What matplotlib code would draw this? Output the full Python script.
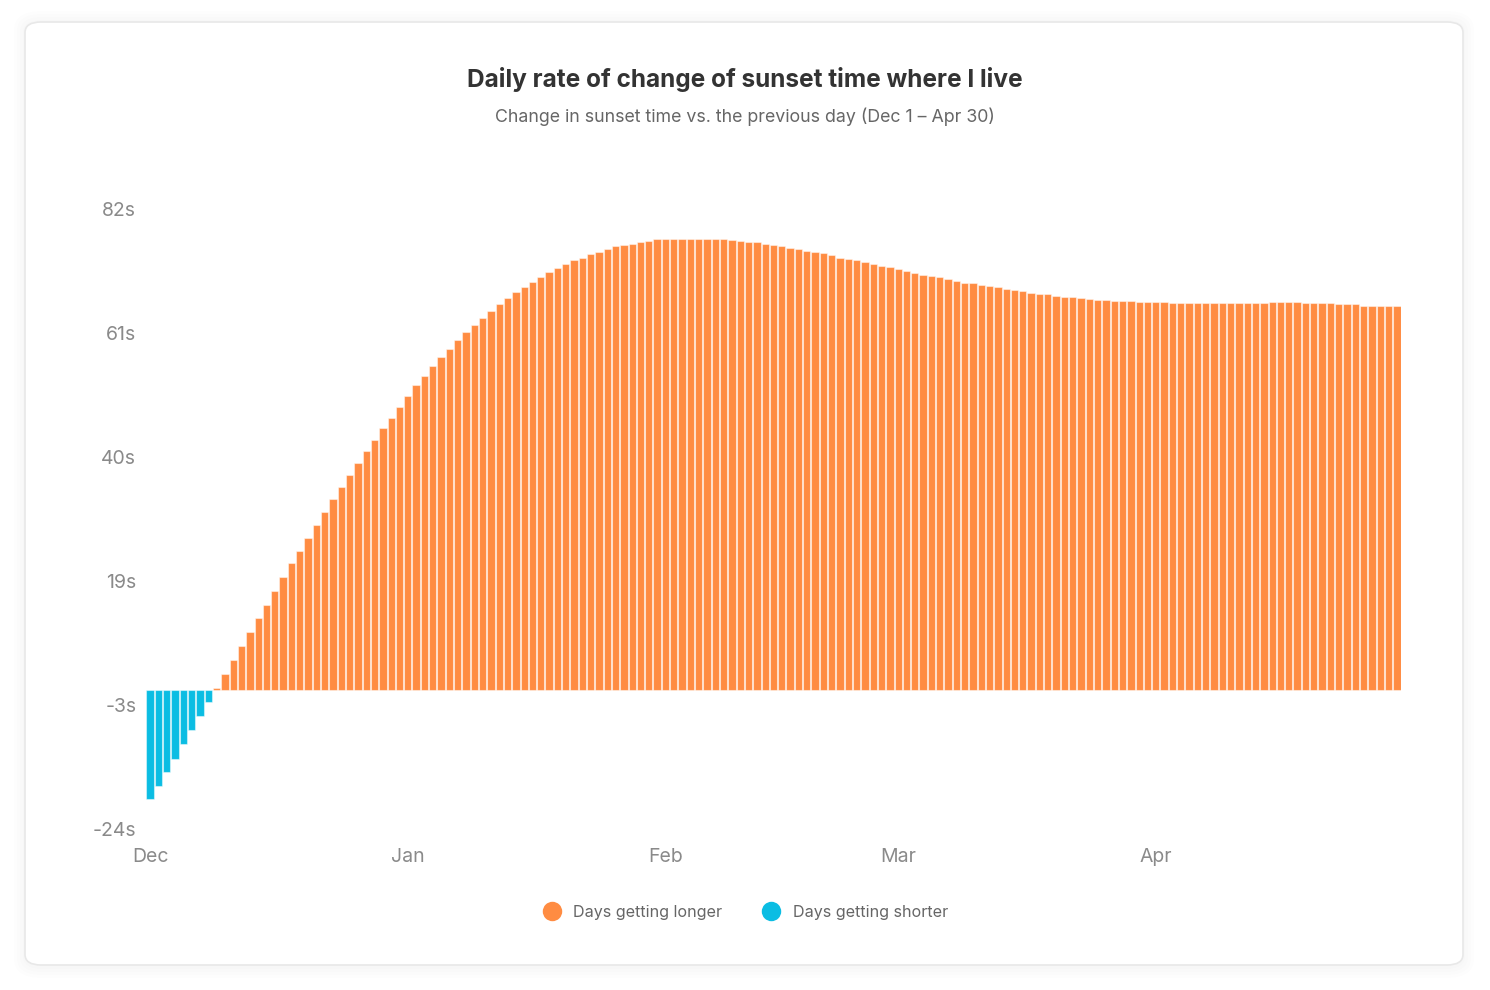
import numpy as np
import matplotlib
matplotlib.use("Agg")
import matplotlib.pyplot as plt
from matplotlib.patches import FancyBboxPatch
from matplotlib.lines import Line2D
from matplotlib.ticker import FixedLocator, FuncFormatter

plt.rcParams['font.family'] = ['Inter', 'DejaVu Sans']

# change in sunset time vs previous day, seconds (Dec 1 .. Apr 30)
dec = [-18.7, -16.4, -14.1, -11.8, -9.3, -6.9, -4.5, -2.1, 0.3, 2.7,
       5.1, 7.5, 9.9, 12.2, 14.5, 16.9, 19.2, 21.6, 23.7, 26.0,
       28.2, 30.4, 32.6, 34.7, 36.8, 38.8, 40.8, 42.7, 44.7, 46.5, 48.3]
jan = [50.2, 52.1, 53.7, 55.4, 56.9, 58.3, 59.8, 61.1, 62.4, 63.6,
       64.8, 65.9, 67.0, 68.0, 68.9, 69.8, 70.6, 71.4, 72.1, 72.8,
       73.4, 73.9, 74.5, 74.9, 75.3, 75.8, 76.0, 76.3, 76.5, 76.7, 77.0]
feb = [77.0, 77.1, 77.1, 77.1, 77.1, 77.1, 77.0, 77.0, 76.9, 76.7,
       76.6, 76.5, 76.3, 76.1, 75.8, 75.5, 75.3, 75.1, 74.8, 74.6,
       74.3, 73.9, 73.7, 73.4, 73.1, 72.8, 72.5, 72.2]
mar = [71.9, 71.6, 71.3, 71.0, 70.8, 70.5, 70.2, 69.9, 69.6, 69.5,
       69.2, 69.0, 68.8, 68.5, 68.3, 68.1, 67.8, 67.7, 67.6, 67.3,
       67.2, 67.1, 66.9, 66.8, 66.7, 66.6, 66.5, 66.4, 66.4, 66.3, 66.3]
apr = [66.3, 66.3, 66.1, 66.1, 66.1, 66.1, 66.1, 66.1, 66.1, 66.1,
       66.1, 66.1, 66.1, 66.1, 66.3, 66.3, 66.3, 66.3, 66.1, 66.1,
       66.1, 66.1, 66.0, 66.0, 65.9, 65.7, 65.7, 65.6, 65.6, 65.6]

rate = np.array(dec + jan + feb + mar + apr)
month_labels = ["Dec", "Jan", "Feb", "Mar", "Apr"]
month_starts = np.cumsum([0, len(dec), len(jan), len(feb), len(mar)])

ORANGE = "#ff8c42"
BLUE = "#0bbde3"

fig = plt.figure(figsize=(14.9, 9.9), dpi=100)
fig.patch.set_facecolor("white")

# card with soft shadow
W, H = 1490, 990
x0, y0, x1, y1 = 25, 22, 1463, 965
for i in range(4):
    pad = 3 + 3 * i
    fig.patches.append(FancyBboxPatch(
        ((x0 - pad + 1) / W, 1 - (y1 + pad + 1) / H),
        (x1 - x0 + 2 * pad - 2) / W, (y1 - y0 + 2 * pad) / H,
        boxstyle=f"round,pad=0,rounding_size={(16 + pad) / W}",
        transform=fig.transFigure, facecolor="black", edgecolor="none",
        alpha=0.008, zorder=0))
fig.patches.append(FancyBboxPatch(
    (x0 / W, 1 - y1 / H), (x1 - x0) / W, (y1 - y0) / H,
    boxstyle=f"round,pad=0,rounding_size={16 / W}",
    transform=fig.transFigure, facecolor="white", edgecolor="#e8e8e8",
    linewidth=1.2, zorder=1))

ax = fig.add_axes([146 / W, 1 - 829 / H, 1255 / W, 620 / H])
ax.set_facecolor("none")
ax.set_zorder(2)

days = np.arange(len(rate))
colors = [ORANGE if v >= 0 else BLUE for v in rate]
ax.bar(days, rate, width=0.88, color=colors,
       edgecolor=(1, 1, 1, 0.45), linewidth=0.8)

ax.set_xlim(-0.5, len(rate) - 0.5)
ax.set_ylim(-23.8, 82.2)
ax.yaxis.set_major_locator(FixedLocator(np.linspace(-23.8, 82.2, 6)))
ax.yaxis.set_major_formatter(FuncFormatter(lambda v, p: f"{round(v)}s"))
ax.set_xticks(month_starts)
ax.set_xticklabels(month_labels)
ax.tick_params(axis="both", length=0, labelsize=14, labelcolor="#8a8a8a")
ax.tick_params(axis="y", pad=7)
ax.tick_params(axis="x", pad=14)
for s in ax.spines.values():
    s.set_visible(False)

fig.text(0.5, 1 - 79 / H, "Daily rate of change of sunset time where I live",
         ha="center", va="center", fontsize=17.6, fontweight="bold", color="#333333")
fig.text(0.5, 1 - 117 / H, "Change in sunset time vs. the previous day (Dec 1 \u2013 Apr 30)",
         ha="center", va="center", fontsize=12.8, color="#666666")

handles = [Line2D([], [], marker="o", linestyle="none", markersize=14,
                  markerfacecolor=ORANGE, markeredgecolor="none"),
           Line2D([], [], marker="o", linestyle="none", markersize=14,
                  markerfacecolor=BLUE, markeredgecolor="none")]
leg = fig.legend(handles, ["Days getting longer", "Days getting shorter"],
                 loc="center", bbox_to_anchor=(0.5, 1 - 912 / H), ncol=2,
                 frameon=False, fontsize=11.6, handletextpad=0.75,
                 columnspacing=2.4, handlelength=1.2)
for t in leg.get_texts():
    t.set_color("#666666")

fig.savefig("out.png", dpi=100, facecolor=fig.get_facecolor())
